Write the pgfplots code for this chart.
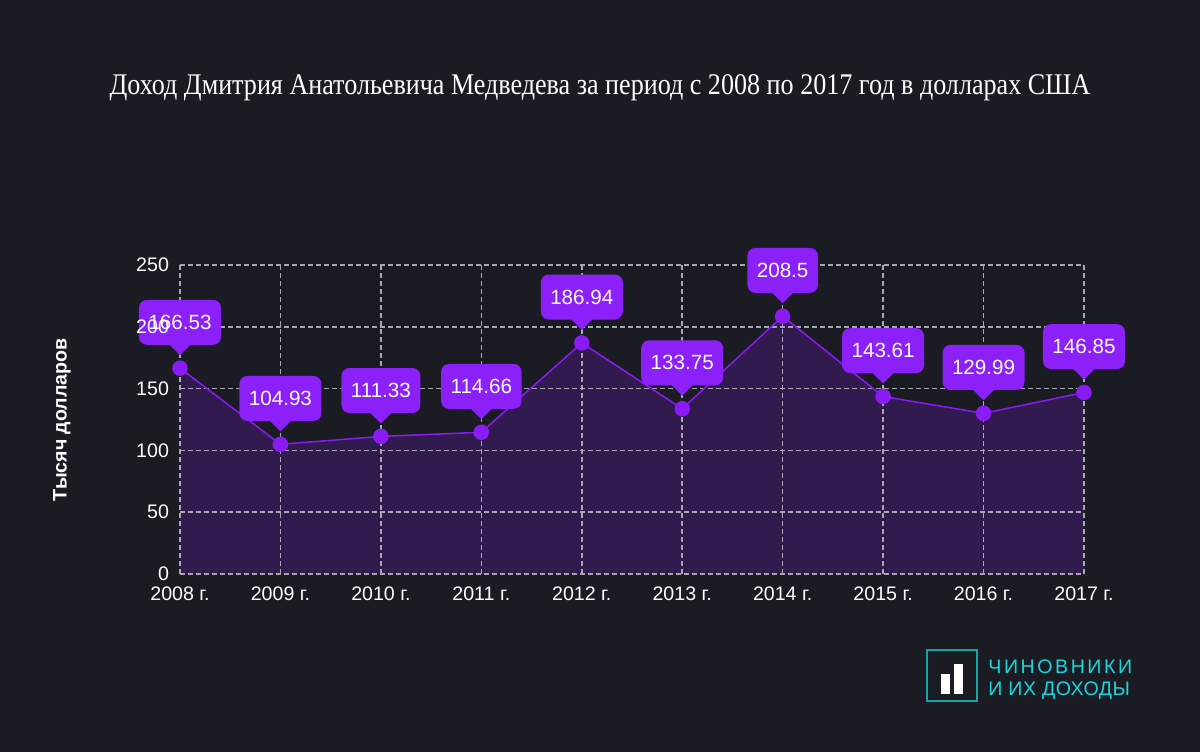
\documentclass[border=0pt]{standalone}
\usepackage{fontspec}
\setmainfont{Liberation Serif}
\newfontfamily\sansf{Liberation Sans}
\newfontfamily\sanslsa[LetterSpace=13]{Liberation Sans}
\newfontfamily\sanslsb[LetterSpace=2.5]{Liberation Sans}
\usepackage{pgfplots}
\pgfplotsset{compat=1.18}
\definecolor{bgc}{HTML}{1B1B23}
\definecolor{fillc}{HTML}{301A4E}
\definecolor{linec}{HTML}{8A1BF5}
\definecolor{boxc}{HTML}{8C20F9}
\definecolor{gridc}{HTML}{A8A8B0}
\definecolor{tealc}{HTML}{16A3A3}
\definecolor{tealt}{HTML}{1ED4DC}
\pgfdeclareplotmark{callout}{%
  \pgfpathmoveto{\pgfpoint{-5.5pt}{12pt}}%
  \pgfpathlineto{\pgfpoint{5.5pt}{12pt}}%
  \pgfpathlineto{\pgfpoint{0pt}{6.5pt}}%
  \pgfpathclose\pgfusepathqfill}
\pgfplotstableread{
x y label
0 166.53 166.53
1 104.93 104.93
2 111.33 111.33
3 114.66 114.66
4 186.94 186.94
5 133.75 133.75
6 208.5 208.5
7 143.61 143.61
8 129.99 129.99
9 146.85 146.85
}\datatab
\pgfplotsset{
  common/.style={
    at={(90pt,89pt)}, anchor=south west,
    width=452pt, height=154.5pt, scale only axis,
    xmin=0, xmax=9, ymin=0, ymax=250,
    axis line style={draw=none},
    tick style={draw=none},
    xtick={0,...,9},
    ytick={0,50,100,150,200,250},
  }
}
\begin{document}
\begin{tikzpicture}[x=1pt,y=1pt]
\fill[bgc] (0,0) rectangle (600,376);
\node[font=\fontsize{15}{18}\selectfont, text=white] at (300,332) {\scalebox{0.87}[1]{Доход Дмитрия Анатольевича Медведева за период с 2008 по 2017 год в долларах США}};
\node[rotate=90, font=\sansf\bfseries\fontsize{9.8}{12}\selectfont, text=white] at (31,166) {Тысяч долларов};
\begin{axis}[common, hide axis]
\addplot[fill=fillc, draw=none] table[x=x, y=y] {\datatab} \closedcycle;
\end{axis}
\begin{axis}[common,
  grid=major,
  grid style={gridc, line width=0.75pt, dash pattern=on 2.5pt off 1.5pt},
  xticklabels={}, yticklabels={},
]
\addplot[color=linec, line width=0.75pt, mark=*, mark size=3.5pt] table[x=x, y=y] {\datatab};
\addplot[only marks, mark=callout, color=boxc,
  point meta=explicit symbolic,
  nodes near coords,
  nodes near coords style={anchor=south, yshift=11.5pt, fill=boxc, rounded corners=4pt,
     text=white, font=\sansf\fontsize{10.3}{12}\selectfont, inner xsep=4.75pt,
     minimum height=22.5pt, inner ysep=0pt},
] table[x=x, y=y, meta=label] {\datatab};
\end{axis}
\begin{axis}[common,
  xticklabels={2008 г.,2009 г.,2010 г.,2011 г.,2012 г.,2013 г.,2014 г.,2015 г.,2016 г.,2017 г.},
  /pgf/number format/assume math mode=true,
  tick label style={font=\sansf\fontsize{9.8}{12}\selectfont, text=white},
  xticklabel style={yshift=-3pt},
  yticklabel style={xshift=-2pt},
]
\end{axis}
\draw[tealc, line width=1pt] (463.5,25.5) rectangle (488.5,51);
\fill[white] (470.5,29) rectangle (475,39);
\fill[white] (477,29) rectangle (481.5,44);
\node[anchor=base west, inner sep=0pt, text=tealt, font=\sanslsa\fontsize{9.8}{12}\selectfont] at (494,39.5) {ЧИНОВНИКИ};
\node[anchor=base west, inner sep=0pt, text=tealt, font=\sanslsb\fontsize{9.8}{12}\selectfont] at (494,28.5) {И ИХ ДОХОДЫ};
\end{tikzpicture}
\end{document}
